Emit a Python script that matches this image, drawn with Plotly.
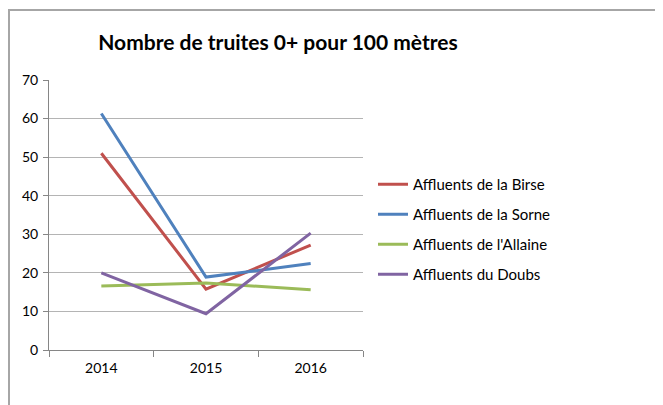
import plotly.graph_objects as go

years = ["2014", "2015", "2016"]
birse = [51.0, 15.8, 27.2]
sorne = [61.3, 18.9, 22.4]
allaine = [16.6, 17.4, 15.6]
doubs = [20.0, 9.4, 30.3]
series_names = ["Affluents de la Birse", "Affluents de la Sorne",
                "Affluents de l'Allaine", "Affluents du Doubs"]
colors = ["#C0504D", "#4F81BD", "#9BBB59", "#8064A2"]
y_ticks = [0, 10, 20, 30, 40, 50, 60, 70]

FONT = "Lato, Open Sans, sans-serif"

fig = go.Figure()
for i, (name, vals) in enumerate(zip(series_names, [birse, sorne, allaine, doubs])):
    fig.add_trace(go.Scatter(x=years, y=vals, mode="lines", name=name,
                             legendgroup=f"g{i}",
                             line=dict(color=colors[i], width=3)))

W, H = 655, 397
L, R, T, B = 41, 300, 72, 55
pw, ph = W - L - R, H - T - B

def px_x(p):
    return (p - L) / pw

def px_y(p):
    return (H - B - p) / ph

fig.update_layout(
    width=W, height=H,
    margin=dict(l=L, r=R, t=T, b=B),
    paper_bgcolor="white", plot_bgcolor="white",
    font=dict(family=FONT, size=14, color="#000000"),
    title=dict(text="<b>Nombre de truites 0+ pour 100 mètres</b>",
               x=270 / W, xanchor="center", y=1 - 35 / H, yanchor="middle",
               font=dict(family=FONT, size=21, color="#000000")),
    showlegend=True,
    legend=dict(x=px_x(365), xanchor="left", y=px_y(160), yanchor="top",
                font=dict(family=FONT, size=15, color="#000000"),
                tracegroupgap=7.5, bgcolor="rgba(0,0,0,0)"),
    xaxis=dict(type="category", showgrid=False, showline=True,
               linecolor="#868686", linewidth=1, ticks="outside",
               tickson="boundaries", ticklen=6, tickcolor="#868686",
               ticklabelstandoff=5,
               tickfont=dict(family=FONT, size=14, color="#000000"),
               range=[-0.5, 2.5], fixedrange=True),
    yaxis=dict(range=[0, 70], tickvals=y_ticks, showgrid=True,
               gridcolor="#B4B4B4", gridwidth=1, showline=True,
               linecolor="#868686", linewidth=1, ticks="outside",
               ticklen=5, tickcolor="#868686", zeroline=False,
               ticklabelstandoff=2,
               tickfont=dict(family=FONT, size=14, color="#000000")),
    shapes=[
        dict(type="line", xref="paper", yref="paper",
             x0=px_x(0), y0=px_y(2), x1=px_x(W), y1=px_y(2),
             line=dict(color="#A6A6A6", width=2)),
        dict(type="line", xref="paper", yref="paper",
             x0=px_x(1), y0=px_y(2), x1=px_x(1), y1=px_y(H),
             line=dict(color="#A6A6A6", width=2)),
    ],
)

fig.write_html("out.html")
